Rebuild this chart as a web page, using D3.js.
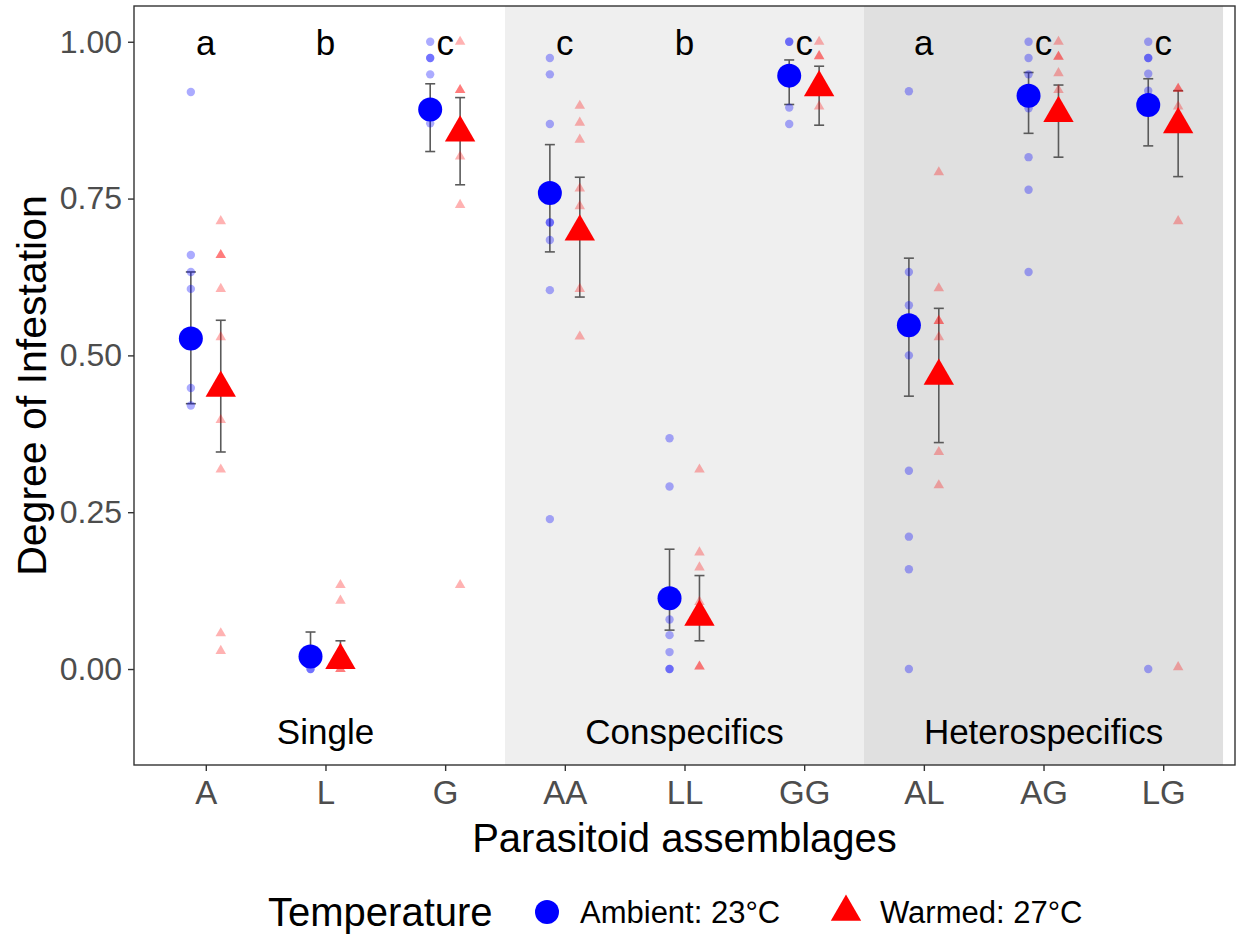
<!DOCTYPE html>
<html>
<head>
<meta charset="utf-8">
<script src="https://cdn.jsdelivr.net/npm/d3@7"></script>
<style>
  body { margin: 0; background: #fff; }
  svg { font-family: "Liberation Sans", Arial, sans-serif; }
</style>
</head>
<body>
<div id="chart"></div>
<script>
// categories and annotations
var categories = ["A", "L", "G", "AA", "LL", "GG", "AL", "AG", "LG"];
var letters = ["a", "b", "c", "c", "b", "c", "a", "c", "c"];
var groupLabels = ["Single", "Conspecifics", "Heterospecifics"];
var groupStart = [0.5, 3.5, 6.5];
var groupEnd = [3.5, 6.5, 9.5];
var yTicks = [0, 0.25, 0.5, 0.75, 1];

// model means and intervals
var ambientMean = [0.527, 0.020, 0.892, 0.759, 0.113, 0.946, 0.548, 0.914, 0.899];
var ambientLow  = [0.423, 0.004, 0.825, 0.665, 0.062, 0.900, 0.435, 0.854, 0.834];
var ambientHigh = [0.633, 0.059, 0.933, 0.836, 0.191, 0.971, 0.655, 0.951, 0.941];
var warmedMean  = [0.448, 0.014, 0.855, 0.697, 0.083, 0.927, 0.467, 0.886, 0.868];
var warmedLow   = [0.346, 0.002, 0.772, 0.593, 0.045, 0.867, 0.361, 0.816, 0.785];
var warmedHigh  = [0.556, 0.045, 0.911, 0.784, 0.149, 0.961, 0.575, 0.931, 0.922];

// raw replicate values
var ambientRaw = [
  [0.92, 0.66, 0.633, 0.606, 0.448, 0.42],
  [0, 0],
  [1, 0.974, 0.974, 0.948, 0.87],
  [0.974, 0.948, 0.869, 0.712, 0.712, 0.684, 0.604, 0.239],
  [0.368, 0.291, 0.079, 0.054, 0.027, 0, 0],
  [1, 1, 0.895, 0.869],
  [0.921, 0.633, 0.58, 0.5, 0.316, 0.211, 0.159, 0],
  [1, 0.974, 0.948, 0.894, 0.816, 0.764, 0.633],
  [1, 0.974, 0.974, 0.949, 0.922, 0]
];
var warmedRaw = [
  [0.714, 0.66, 0.66, 0.606, 0.529, 0.397, 0.318, 0.057, 0.029],
  [0.134, 0.109, 0, 0],
  [1, 0.923, 0.923, 0.817, 0.74, 0.134],
  [0.898, 0.871, 0.844, 0.766, 0.738, 0.606, 0.53],
  [0.318, 0.186, 0.162, 0.107, 0.004, 0.004],
  [1, 0.977, 0.977, 0.897],
  [0.792, 0.607, 0.555, 0.555, 0.529, 0.346, 0.293],
  [1, 0.976, 0.976, 0.95, 0.923],
  [0.925, 0.925, 0.897, 0.714, 0.003]
];

var width = 1238, height = 939;
var panel = { left: 134, right: 1235, top: 6, bottom: 765 };

var svg = d3.select("#chart").append("svg")
  .attr("width", width)
  .attr("height", height);

// x is a continuous index scale so shaded bands can sit between categories
var x = d3.scaleLinear().domain([0.4, 9.6]).range([panel.left, panel.right]);
var y = d3.scaleLinear().domain([-0.153, 1.057]).range([panel.bottom, panel.top]);
var dodge = 0.125;

// shaded group bands
var bandFill = ["#ffffff", "#efefef", "#e0e0e0"];
svg.selectAll("rect.band")
  .data(groupLabels)
  .enter().append("rect")
  .attr("class", "band")
  .attr("x", function(d, i) { return x(groupStart[i]); })
  .attr("width", function(d, i) { return x(groupEnd[i]) - x(groupStart[i]); })
  .attr("y", panel.top)
  .attr("height", panel.bottom - panel.top)
  .attr("fill", function(d, i) { return bandFill[i]; });

// group labels at y = -0.1
svg.selectAll("text.group")
  .data(groupLabels)
  .enter().append("text")
  .attr("x", function(d, i) { return x((groupStart[i] + groupEnd[i]) / 2); })
  .attr("y", y(-0.1))
  .attr("dy", "0.36em")
  .attr("text-anchor", "middle")
  .attr("font-size", 35)
  .attr("fill", "#000")
  .text(function(d) { return d; });

// significance letters at y = 1
svg.selectAll("text.letter")
  .data(letters)
  .enter().append("text")
  .attr("x", function(d, i) { return x(i + 1); })
  .attr("y", y(1))
  .attr("dy", "0.38em")
  .attr("text-anchor", "middle")
  .attr("font-size", 35)
  .attr("fill", "#000")
  .text(function(d) { return d; });

var tri = d3.symbol().type(d3.symbolTriangle);

// error bars
function errorBars(lo, hi, off) {
  var g = svg.append("g").attr("stroke", "#5a5a5a").attr("stroke-width", 1.6);
  categories.forEach(function(c, i) {
    var cx = x(i + 1 + off);
    g.append("line").attr("x1", cx).attr("x2", cx).attr("y1", y(lo[i])).attr("y2", y(hi[i]));
    g.append("line").attr("x1", cx - 5).attr("x2", cx + 5).attr("y1", y(lo[i])).attr("y2", y(lo[i]));
    g.append("line").attr("x1", cx - 5).attr("x2", cx + 5).attr("y1", y(hi[i])).attr("y2", y(hi[i]));
  });
}
errorBars(ambientLow, ambientHigh, -dodge);
errorBars(warmedLow, warmedHigh, dodge);

// raw points
categories.forEach(function(c, i) {
  ambientRaw[i].forEach(function(v) {
    svg.append("circle")
      .attr("cx", x(i + 1 - dodge)).attr("cy", y(v)).attr("r", 4.2)
      .attr("fill", "blue").attr("fill-opacity", 0.33);
  });
  warmedRaw[i].forEach(function(v) {
    svg.append("path")
      .attr("d", tri.size(48)())
      .attr("transform", "translate(" + x(i + 1 + dodge) + "," + y(v) + ")")
      .attr("fill", "red").attr("fill-opacity", 0.3);
  });
});

// means
svg.selectAll("circle.mean")
  .data(ambientMean)
  .enter().append("circle")
  .attr("cx", function(d, i) { return x(i + 1 - dodge); })
  .attr("cy", function(d) { return y(d); })
  .attr("r", 12)
  .attr("fill", "blue");

svg.selectAll("path.mean")
  .data(warmedMean)
  .enter().append("path")
  .attr("d", tri.size(400)())
  .attr("transform", function(d, i) { return "translate(" + x(i + 1 + dodge) + "," + y(d) + ")"; })
  .attr("fill", "red");

// panel border
svg.append("rect")
  .attr("x", panel.left).attr("y", panel.top)
  .attr("width", panel.right - panel.left).attr("height", panel.bottom - panel.top)
  .attr("fill", "none").attr("stroke", "#333").attr("stroke-width", 1.4);

// y axis
var yAxis = svg.append("g")
  .attr("transform", "translate(" + panel.left + ",0)")
  .call(d3.axisLeft(y).tickValues(yTicks).tickFormat(d3.format(".2f")).tickSize(6).tickPadding(6));
yAxis.select(".domain").remove();
yAxis.selectAll("line").attr("stroke", "#333").attr("stroke-width", 1.4);
yAxis.selectAll("text").attr("font-size", 32).attr("fill", "#4d4d4d")
  .attr("font-family", "Liberation Sans, Arial, sans-serif");

// x axis
var xAxis = svg.append("g")
  .attr("transform", "translate(0," + panel.bottom + ")")
  .call(d3.axisBottom(x).tickValues(d3.range(1, 10))
    .tickFormat(function(d) { return categories[d - 1]; }).tickSize(6).tickPadding(10));
xAxis.select(".domain").remove();
xAxis.selectAll("line").attr("stroke", "#333").attr("stroke-width", 1.4);
xAxis.selectAll("text").attr("font-size", 33).attr("fill", "#4d4d4d")
  .attr("font-family", "Liberation Sans, Arial, sans-serif");

// axis titles
svg.append("text")
  .attr("x", (panel.left + panel.right) / 2)
  .attr("y", 852)
  .attr("text-anchor", "middle")
  .attr("font-size", 40)
  .text("Parasitoid assemblages");

svg.append("text")
  .attr("transform", "translate(46," + (panel.top + panel.bottom) / 2 + ") rotate(-90)")
  .attr("text-anchor", "middle")
  .attr("font-size", 41)
  .text("Degree of Infestation");

// legend
var leg = svg.append("g").attr("transform", "translate(0,912)");
leg.append("text").attr("x", 268).attr("y", 0).attr("dy", "0.35em")
  .attr("font-size", 40).text("Temperature");
leg.append("circle").attr("cx", 547).attr("cy", 0).attr("r", 12).attr("fill", "blue");
leg.append("text").attr("x", 580).attr("y", 0).attr("dy", "0.35em")
  .attr("font-size", 31).text("Ambient: 23°C");
leg.append("path").attr("d", tri.size(400)())
  .attr("transform", "translate(846,0)").attr("fill", "red");
leg.append("text").attr("x", 880).attr("y", 0).attr("dy", "0.35em")
  .attr("font-size", 31).text("Warmed: 27°C");
</script>
</body>
</html>
